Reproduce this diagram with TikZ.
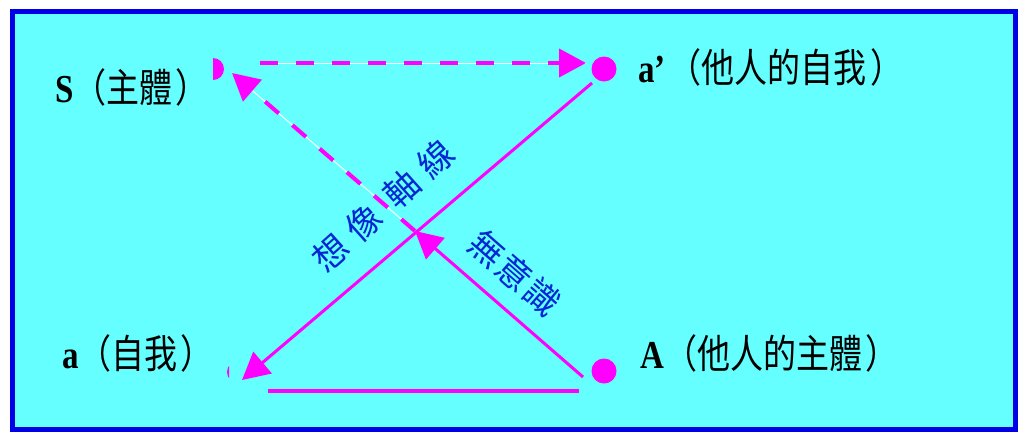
\documentclass[tikz,border=0pt]{standalone}
\usepackage{fontspec}
\setmainfont{Liberation Serif}
\newfontfamily\cjk{Noto Sans CJK TC}
\usetikzlibrary{arrows.meta}
\definecolor{bgcyan}{RGB}{102,255,255}
\definecolor{frameblue}{RGB}{0,0,230}
\definecolor{mag}{RGB}{255,0,255}
\definecolor{txtblue}{RGB}{0,40,210}
\newcommand{\tallbox}[1]{\scalebox{1}[1.2]{#1}}
\tikzset{
  dot/.style={circle,fill=mag,inner sep=0pt,minimum size=25pt},
  lab/.style={anchor=base west,inner sep=0pt,font=\fontsize{33}{33}\selectfont},
  axislab/.style={text=txtblue,inner sep=0pt,font=\cjk\fontsize{35}{35}\selectfont},
  tip/.style={-{Triangle[length=27pt,width=28pt]}},
  solidline/.style={draw=mag,line width=3pt},
  dashline/.style={draw=mag,line width=4pt,dash pattern=on 18pt off 18pt,
    preaction={draw=white,line width=1pt,solid,-}}
}
\begin{document}
\begin{tikzpicture}[x=1pt,y=-1pt]
  \useasboundingbox (0,0) rectangle (1018,432);
  \draw[frameblue,fill=bgcyan,line width=5pt] (12.5,11.5) rectangle (1015.5,429.5);

  \node[dot] (ap) at (604,69) {};
  \node[dot] (A) at (604,371) {};
  \fill[mag] (213,58) arc[start angle=-90,end angle=90,radius=11] -- cycle;
  \begin{scope}
    \clip (224,355) rectangle (229,390);
    \fill[mag] (238,372) circle (11);
  \end{scope}

  \coordinate (s0) at (260,63);
  \coordinate (s1) at (586,63);
  \coordinate (ap0) at (592,83);
  \coordinate (a1) at (242,380);
  \coordinate (A0) at (583,377);
  \coordinate (X) at (415,231);
  \coordinate (S1) at (232,73);
  \coordinate (b0) at (268,391);
  \coordinate (b1) at (579,391);

  \draw[dashline,tip] (s0) -- (s1);
  \draw[solidline,tip] (ap0) -- (a1);
  \draw[solidline,tip] (A0) -- (X);
  \draw[dashline,tip] (X) -- (S1);
  \draw[mag,line width=4pt] (b0) -- (b1);

  \node[lab] (Slab) at (55,102) {\tallbox{{\bfseries S}{\cjk （主體\hspace{0.1em}）}}};
  \node[lab] (aplab) at (638,82) {\tallbox{{\bfseries a’}\hspace{0.1em}{\cjk （他人的自我\hspace{0.1em}）}}};
  \node[lab] (alab) at (62,368) {\tallbox{{\bfseries a}{\cjk （自我\hspace{0.1em}）}}};
  \node[lab] (Alab) at (640,368) {\tallbox{{\bfseries A}{\cjk （他人的主體\hspace{0.1em}）}}};

  \node[axislab,rotate=41.8] (imag) at (383,206) {想\hspace{0.3em}像\hspace{0.45em}軸\hspace{0.3em}線};
  \node[axislab,rotate=-41.1] (uncon) at (515,273) {無\hspace{0.05em}意\hspace{0.05em}識};
\end{tikzpicture}
\end{document}
